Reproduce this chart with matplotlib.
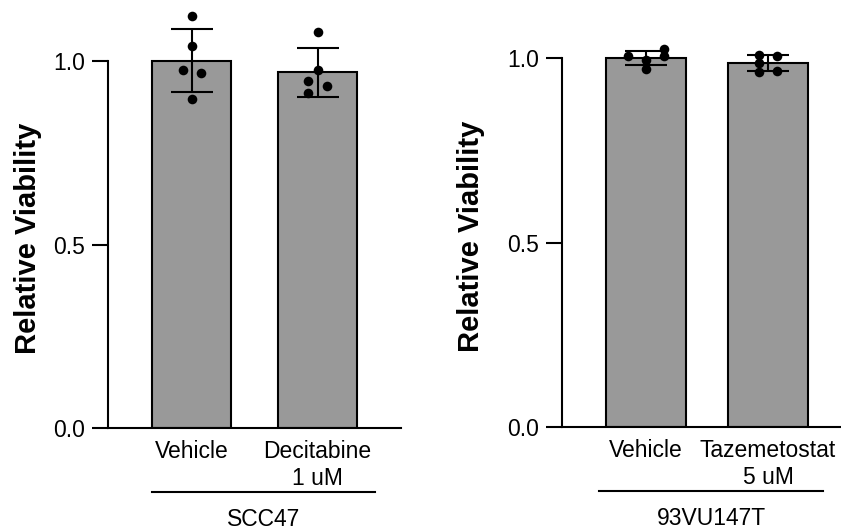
import numpy as np
import matplotlib
matplotlib.use('Agg')
import matplotlib.pyplot as plt
import matplotlib.transforms as mtransforms

plt.rcParams['font.family'] = ['Liberation Sans', 'DejaVu Sans']

# SCC47 panel
scc_labels = ['Vehicle', 'Decitabine\n1 uM']
scc_vehicle = [1.123, 1.041, 0.975, 0.968, 0.896]
scc_decitabine = [1.080, 0.975, 0.946, 0.932, 0.912]

# 93VU147T panel
vu_labels = ['Vehicle', 'Tazemetostat\n5 uM']
vu_vehicle = [1.007, 0.995, 0.971, 1.025, 1.005]
vu_tazemetostat = [1.010, 1.007, 0.986, 0.964, 0.966]

# horizontal jitter of dots (x offsets only)
scc_jitter = [[0, 0, -0.072, 0.072, 0], [0, 0, -0.075, 0.075, -0.075]]
vu_jitter = [[-0.147, 0, 0, 0.145, 0.145], [-0.071, 0.071, -0.071, -0.071, 0.071]]

fig = plt.figure(figsize=(8.41, 5.32), dpi=100)


def panel(rect, labels, groups, jitter, xlim, width, line_x, group_name, label_x):
    ax = fig.add_axes(rect)
    x = np.arange(len(groups))
    means = [np.mean(g) for g in groups]
    sds = [np.std(g, ddof=1) for g in groups]
    ax.bar(x, means, width=width, color='#999999', edgecolor='black', linewidth=1.5, zorder=1)
    ax.errorbar(x, means, yerr=sds, fmt='none', ecolor='black', elinewidth=1.5,
                capsize=15, capthick=1.5, zorder=2)
    for i, g in enumerate(groups):
        ax.scatter(x[i] + np.array(jitter[i]), g, s=48, color='black', zorder=3, linewidths=0)
    ax.set_xlim(*xlim)
    ax.set_ylim(0, 1.15)
    ax.set_yticks([0, 0.5, 1.0])
    ax.set_yticklabels(['0.0', '0.5', '1.0'])
    ax.set_xticks(x)
    ax.set_xticklabels(labels, multialignment='center')
    ax.tick_params(axis='y', length=11.5, width=1.5, labelsize=16.5, pad=5)
    ax.tick_params(axis='x', length=0, labelsize=16.5, pad=9)
    for s in ['top', 'right']:
        ax.spines[s].set_visible(False)
    for s in ['left', 'bottom']:
        ax.spines[s].set_linewidth(1.5)
    ax.spines['left'].set_bounds(0, 1)
    ax.set_ylabel('Relative Viability', fontsize=21, fontweight='bold')
    ax.yaxis.set_label_coords(label_x, 0.45)
    trans = mtransforms.blended_transform_factory(ax.transData, ax.transAxes)
    ax.plot(line_x, [-0.152, -0.152], color='black', lw=1.5, transform=trans, clip_on=False)
    ax.text(np.mean(line_x), -0.232, group_name, transform=trans, ha='center',
            va='baseline', fontsize=16.5)
    return ax


panel([0.1284, 0.1955, 0.3484, 0.7932], scc_labels, [scc_vehicle, scc_decitabine],
      scc_jitter, (-0.668, 1.663), 0.628, [-0.318, 1.456], 'SCC47', -0.225)
panel([0.6683, 0.1974, 0.3305, 0.797], vu_labels, [vu_vehicle, vu_tazemetostat],
      vu_jitter, (-0.689, 1.59), 0.655, [-0.385, 1.451], '93VU147T', -0.277)

fig.savefig('out.png', dpi=100)
